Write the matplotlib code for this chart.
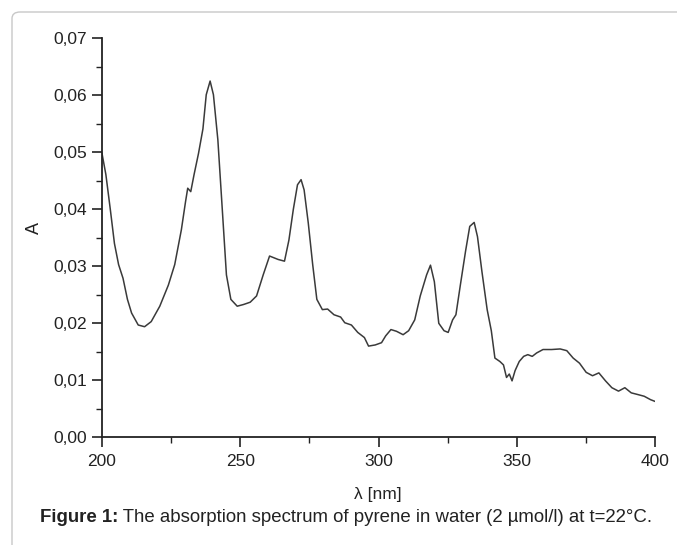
import numpy as np
import matplotlib
matplotlib.use("Agg")
import matplotlib.pyplot as plt
from matplotlib.patches import FancyBboxPatch
from matplotlib.ticker import MultipleLocator, FuncFormatter
from matplotlib.transforms import offset_copy

plt.rcParams["font.family"] = ["Liberation Sans", "DejaVu Sans"]

# Absorption spectrum of pyrene
wavelength = [
    200.0, 201.4, 203.0, 204.5, 206.0, 207.6, 209.2, 210.7, 213.1, 215.4,
    217.8, 220.9, 224.0, 226.3, 228.7, 230.2, 231.0, 232.1, 233.3, 234.9,
    236.5, 237.7, 239.1, 240.3, 241.9, 243.5, 245.0, 246.6, 248.9, 251.2,
    253.6, 255.9, 258.3, 260.6, 263.7, 266.0, 267.6, 269.2, 270.7, 272.0,
    273.1, 274.6, 276.2, 277.7, 279.7, 281.6, 283.9, 286.3, 287.8, 290.2,
    292.5, 294.9, 296.4, 298.8, 301.1, 302.6, 304.5, 306.5, 308.9, 310.9,
    313.1, 315.1, 317.4, 318.8, 320.2, 321.8, 323.7, 325.2, 326.8, 328.0,
    329.6, 331.5, 333.0, 334.6, 335.8, 337.4, 339.3, 340.8, 342.1, 343.9,
    345.2, 346.3, 347.3, 348.3, 349.4, 350.9, 352.5, 354.0, 355.6, 357.2,
    359.5, 362.6, 365.7, 368.1, 370.4, 372.7, 375.1, 377.4, 379.7, 382.1,
    384.4, 386.8, 389.1, 391.4, 393.8, 396.1, 398.4, 400.0,
]
absorbance = [
    0.0498, 0.0461, 0.0400, 0.0340, 0.0303, 0.0279, 0.0242, 0.0218, 0.0197, 0.0194,
    0.0203, 0.0230, 0.0267, 0.0303, 0.0364, 0.0413, 0.0437, 0.0431, 0.0461, 0.0498,
    0.0541, 0.0601, 0.0625, 0.0601, 0.0522, 0.0400, 0.0285, 0.0242, 0.0230, 0.0233,
    0.0237, 0.0248, 0.0285, 0.0318, 0.0312, 0.0309, 0.0346, 0.0400, 0.0443, 0.0452,
    0.0434, 0.0376, 0.0303, 0.0242, 0.0224, 0.0225, 0.0215, 0.0211, 0.0201, 0.0197,
    0.0184, 0.0175, 0.0160, 0.0162, 0.0166, 0.0178, 0.0189, 0.0186, 0.0180, 0.0187,
    0.0206, 0.0248, 0.0285, 0.0302, 0.0273, 0.0200, 0.0187, 0.0184, 0.0206, 0.0215,
    0.0267, 0.0327, 0.0370, 0.0377, 0.0352, 0.0291, 0.0224, 0.0187, 0.0139, 0.0133,
    0.0127, 0.0105, 0.0111, 0.0099, 0.0117, 0.0133, 0.0142, 0.0145, 0.0142, 0.0148,
    0.0154, 0.0154, 0.0155, 0.0152, 0.0139, 0.0130, 0.0114, 0.0108, 0.0113, 0.0099,
    0.0087, 0.0081, 0.0087, 0.0078, 0.0075, 0.0072, 0.0066, 0.0063,
]

fig = plt.figure(figsize=(6.77, 5.45), dpi=100)

# light rounded frame around the figure (right/bottom run off the image)
frame_top = 1 - 12 / 545
frame = FancyBboxPatch((12 / 677, -0.05), 1.2, frame_top + 0.05,
                       boxstyle="round,pad=0,rounding_size=0.012",
                       transform=fig.transFigure, fill=False,
                       edgecolor="#c8c8c8", linewidth=1.0)
fig.patches.append(frame)

ax = fig.add_axes([102 / 677, 1 - 437.3 / 545, 553 / 677, 399 / 545])
ax.plot(wavelength, absorbance, color="#3a3a3a", linewidth=1.1)

ax.set_xlim(200, 400)
ax.set_ylim(0, 0.07)
ax.xaxis.set_major_locator(MultipleLocator(50))
ax.xaxis.set_minor_locator(MultipleLocator(25))
ax.yaxis.set_major_locator(MultipleLocator(0.01))
ax.yaxis.set_minor_locator(MultipleLocator(0.005))
ax.yaxis.set_major_formatter(FuncFormatter(lambda v, p: f"{v:.2f}".replace(".", ",")))

for side in ("top", "right"):
    ax.spines[side].set_visible(False)
for side in ("left", "bottom"):
    ax.spines[side].set_linewidth(1.3)
    ax.spines[side].set_color("#222222")

ax.tick_params(which="major", direction="out", length=7, width=1.2,
               labelsize=12.5, colors="#222222")
ax.tick_params(which="minor", direction="out", length=4, width=1.0, colors="#222222")
ax.tick_params(axis="x", pad=5)

ax.set_xlabel("λ [nm]", fontsize=12.5, color="#222222")
ax.set_ylabel("A", fontsize=13, color="#222222")
ax.xaxis.set_label_coords(0.499, -0.125)
ax.yaxis.set_label_coords(-0.107, 0.525)

# caption: bold label followed by plain text
cap_y = 1 - 517 / 545
t1 = fig.text(40 / 677, cap_y, "Figure 1:", fontsize=13.4, fontweight="bold",
              va="center", ha="left", color="#222222")
fig.canvas.draw()
w = t1.get_window_extent().width
fig.text(40 / 677, cap_y, " The absorption spectrum of pyrene in water (2 µmol/l) at t=22°C.",
         fontsize=13.4, va="center", ha="left", color="#222222",
         transform=offset_copy(fig.transFigure, fig=fig, x=w, y=0, units="dots"))

fig.savefig("out.png", dpi=100)
